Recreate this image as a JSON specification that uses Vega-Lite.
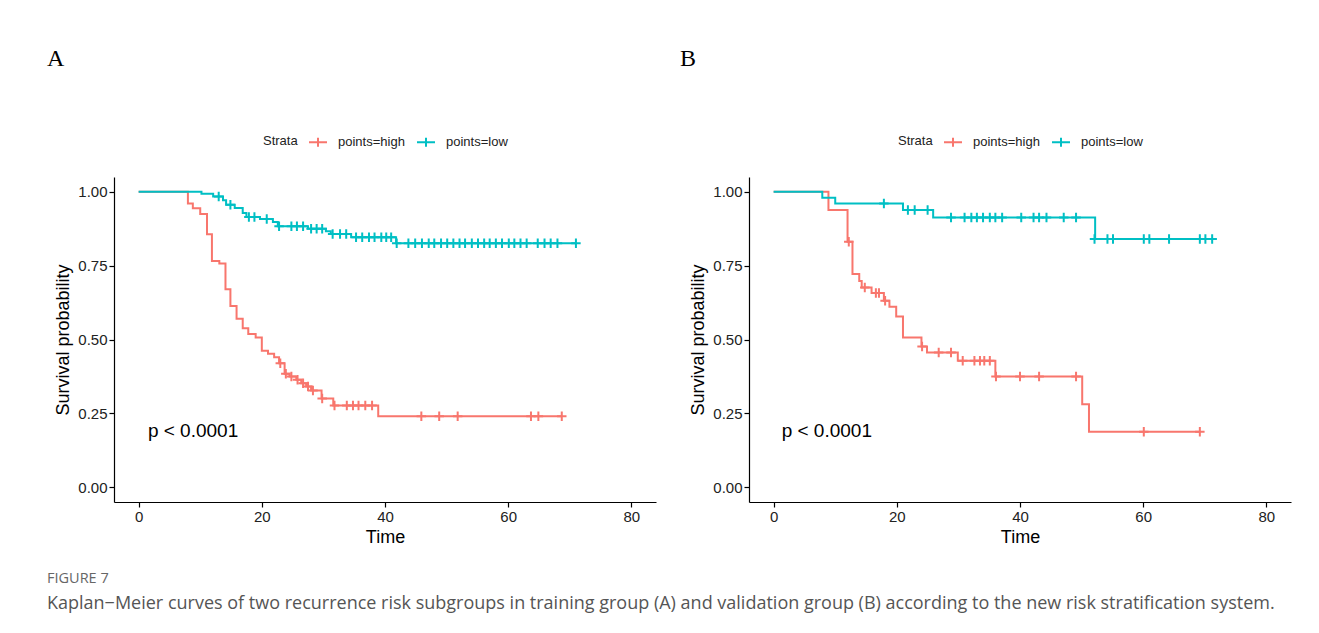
{
  "$schema": "https://vega.github.io/schema/vega-lite/v6.json",
  "background": "white",
  "padding": {"left": 47, "top": 47, "right": 5, "bottom": 5},
  "config": {
    "view": {"stroke": null},
    "font": "Liberation Sans",
    "axis": {
      "grid": false,
      "domainColor": "black",
      "domainWidth": 1.2,
      "tickColor": "black",
      "tickWidth": 1.2,
      "tickSize": 5,
      "labelFont": "Liberation Sans",
      "labelFontSize": 15,
      "labelColor": "#222",
      "labelPadding": 2,
      "titleFont": "Liberation Sans",
      "titleFontSize": 18,
      "titleFontWeight": "normal",
      "titleColor": "black"
    },
    "legend": {
      "labelFont": "Liberation Sans",
      "labelFontSize": 13,
      "labelColor": "#222",
      "titleFont": "Liberation Sans",
      "titleFontSize": 13,
      "titleFontWeight": "normal",
      "titleColor": "#222"
    }
  },
  "title": {
    "text": "FIGURE 7",
    "subtitle": "Kaplan−Meier curves of two recurrence risk subgroups in training group (A) and validation group (B) according to the new risk stratification system.",
    "orient": "bottom",
    "anchor": "start",
    "frame": "group",
    "offset": 26,
    "dx": -67,
    "font": "Open Sans",
    "fontSize": 14.5,
    "fontWeight": "normal",
    "color": "#666",
    "subtitleFont": "Open Sans",
    "subtitleFontSize": 18,
    "subtitleColor": "#555",
    "subtitlePadding": 8
  },
  "datasets": {
    "steps": [
      {"panel": "A", "strata": "points=high", "time": 0, "surv": 1.0},
      {"panel": "A", "strata": "points=high", "time": 8.0, "surv": 0.960},
      {"panel": "A", "strata": "points=high", "time": 8.8, "surv": 0.944},
      {"panel": "A", "strata": "points=high", "time": 10.0, "surv": 0.925},
      {"panel": "A", "strata": "points=high", "time": 11.1, "surv": 0.856},
      {"panel": "A", "strata": "points=high", "time": 11.9, "surv": 0.766},
      {"panel": "A", "strata": "points=high", "time": 13.1, "surv": 0.757},
      {"panel": "A", "strata": "points=high", "time": 14.1, "surv": 0.670},
      {"panel": "A", "strata": "points=high", "time": 14.9, "surv": 0.613},
      {"panel": "A", "strata": "points=high", "time": 15.9, "surv": 0.570},
      {"panel": "A", "strata": "points=high", "time": 16.9, "surv": 0.538},
      {"panel": "A", "strata": "points=high", "time": 17.8, "surv": 0.519},
      {"panel": "A", "strata": "points=high", "time": 19.0, "surv": 0.507},
      {"panel": "A", "strata": "points=high", "time": 20.0, "surv": 0.462},
      {"panel": "A", "strata": "points=high", "time": 21.0, "surv": 0.452},
      {"panel": "A", "strata": "points=high", "time": 22.0, "surv": 0.440},
      {"panel": "A", "strata": "points=high", "time": 22.8, "surv": 0.420},
      {"panel": "A", "strata": "points=high", "time": 23.7, "surv": 0.384},
      {"panel": "A", "strata": "points=high", "time": 24.5, "surv": 0.375},
      {"panel": "A", "strata": "points=high", "time": 25.6, "surv": 0.364},
      {"panel": "A", "strata": "points=high", "time": 26.4, "surv": 0.352},
      {"panel": "A", "strata": "points=high", "time": 27.2, "surv": 0.341},
      {"panel": "A", "strata": "points=high", "time": 28.0, "surv": 0.327},
      {"panel": "A", "strata": "points=high", "time": 29.7, "surv": 0.300},
      {"panel": "A", "strata": "points=high", "time": 31.6, "surv": 0.277},
      {"panel": "A", "strata": "points=high", "time": 38.9, "surv": 0.240},
      {"panel": "A", "strata": "points=high", "time": 68.7, "surv": 0.240},
      {"panel": "A", "strata": "points=low", "time": 0, "surv": 1.0},
      {"panel": "A", "strata": "points=low", "time": 10.2, "surv": 0.993},
      {"panel": "A", "strata": "points=low", "time": 12.1, "surv": 0.984},
      {"panel": "A", "strata": "points=low", "time": 13.7, "surv": 0.971},
      {"panel": "A", "strata": "points=low", "time": 14.2, "surv": 0.956},
      {"panel": "A", "strata": "points=low", "time": 15.6, "surv": 0.945},
      {"panel": "A", "strata": "points=low", "time": 16.9, "surv": 0.928},
      {"panel": "A", "strata": "points=low", "time": 17.5, "surv": 0.915},
      {"panel": "A", "strata": "points=low", "time": 19.7, "surv": 0.908},
      {"panel": "A", "strata": "points=low", "time": 21.8, "surv": 0.898},
      {"panel": "A", "strata": "points=low", "time": 22.6, "surv": 0.883},
      {"panel": "A", "strata": "points=low", "time": 27.5, "surv": 0.875},
      {"panel": "A", "strata": "points=low", "time": 30.4, "surv": 0.866},
      {"panel": "A", "strata": "points=low", "time": 31.2, "surv": 0.857},
      {"panel": "A", "strata": "points=low", "time": 34.5, "surv": 0.846},
      {"panel": "A", "strata": "points=low", "time": 41.8, "surv": 0.826},
      {"panel": "A", "strata": "points=low", "time": 71.0, "surv": 0.826},
      {"panel": "B", "strata": "points=high", "time": 0, "surv": 1.0},
      {"panel": "B", "strata": "points=high", "time": 8.9, "surv": 0.938},
      {"panel": "B", "strata": "points=high", "time": 12.0, "surv": 0.831},
      {"panel": "B", "strata": "points=high", "time": 12.8, "surv": 0.722},
      {"panel": "B", "strata": "points=high", "time": 13.9, "surv": 0.698},
      {"panel": "B", "strata": "points=high", "time": 14.3, "surv": 0.676},
      {"panel": "B", "strata": "points=high", "time": 15.9, "surv": 0.657},
      {"panel": "B", "strata": "points=high", "time": 17.9, "surv": 0.631},
      {"panel": "B", "strata": "points=high", "time": 18.8, "surv": 0.611},
      {"panel": "B", "strata": "points=high", "time": 19.9, "surv": 0.578},
      {"panel": "B", "strata": "points=high", "time": 21.0, "surv": 0.507},
      {"panel": "B", "strata": "points=high", "time": 24.0, "surv": 0.476},
      {"panel": "B", "strata": "points=high", "time": 24.9, "surv": 0.456},
      {"panel": "B", "strata": "points=high", "time": 29.9, "surv": 0.428},
      {"panel": "B", "strata": "points=high", "time": 36.0, "surv": 0.375},
      {"panel": "B", "strata": "points=high", "time": 50.1, "surv": 0.281},
      {"panel": "B", "strata": "points=high", "time": 51.2, "surv": 0.1875},
      {"panel": "B", "strata": "points=high", "time": 69.2, "surv": 0.1875},
      {"panel": "B", "strata": "points=low", "time": 0, "surv": 1.0},
      {"panel": "B", "strata": "points=low", "time": 7.9, "surv": 0.980},
      {"panel": "B", "strata": "points=low", "time": 10.0, "surv": 0.960},
      {"panel": "B", "strata": "points=low", "time": 21.0, "surv": 0.938},
      {"panel": "B", "strata": "points=low", "time": 25.9, "surv": 0.913},
      {"panel": "B", "strata": "points=low", "time": 52.2, "surv": 0.840},
      {"panel": "B", "strata": "points=low", "time": 71.2, "surv": 0.840}
    ],
    "censors": [
      {"panel": "A", "strata": "points=high", "time": 23.0, "surv": 0.420},
      {"panel": "A", "strata": "points=high", "time": 23.9, "surv": 0.384},
      {"panel": "A", "strata": "points=high", "time": 24.8, "surv": 0.375},
      {"panel": "A", "strata": "points=high", "time": 25.8, "surv": 0.364},
      {"panel": "A", "strata": "points=high", "time": 26.7, "surv": 0.352},
      {"panel": "A", "strata": "points=high", "time": 27.5, "surv": 0.341},
      {"panel": "A", "strata": "points=high", "time": 28.3, "surv": 0.327},
      {"panel": "A", "strata": "points=high", "time": 29.8, "surv": 0.300},
      {"panel": "A", "strata": "points=high", "time": 31.8, "surv": 0.277},
      {"panel": "A", "strata": "points=high", "time": 33.8, "surv": 0.277},
      {"panel": "A", "strata": "points=high", "time": 34.8, "surv": 0.277},
      {"panel": "A", "strata": "points=high", "time": 35.7, "surv": 0.277},
      {"panel": "A", "strata": "points=high", "time": 36.8, "surv": 0.277},
      {"panel": "A", "strata": "points=high", "time": 37.9, "surv": 0.277},
      {"panel": "A", "strata": "points=high", "time": 45.9, "surv": 0.240},
      {"panel": "A", "strata": "points=high", "time": 48.8, "surv": 0.240},
      {"panel": "A", "strata": "points=high", "time": 51.8, "surv": 0.240},
      {"panel": "A", "strata": "points=high", "time": 63.7, "surv": 0.240},
      {"panel": "A", "strata": "points=high", "time": 64.9, "surv": 0.240},
      {"panel": "A", "strata": "points=high", "time": 68.7, "surv": 0.240},
      {"panel": "A", "strata": "points=low", "time": 13.0, "surv": 0.984},
      {"panel": "A", "strata": "points=low", "time": 14.9, "surv": 0.956},
      {"panel": "A", "strata": "points=low", "time": 17.9, "surv": 0.915},
      {"panel": "A", "strata": "points=low", "time": 18.8, "surv": 0.915},
      {"panel": "A", "strata": "points=low", "time": 20.8, "surv": 0.908},
      {"panel": "A", "strata": "points=low", "time": 22.8, "surv": 0.883},
      {"panel": "A", "strata": "points=low", "time": 24.8, "surv": 0.883},
      {"panel": "A", "strata": "points=low", "time": 25.7, "surv": 0.883},
      {"panel": "A", "strata": "points=low", "time": 26.7, "surv": 0.883},
      {"panel": "A", "strata": "points=low", "time": 28.0, "surv": 0.875},
      {"panel": "A", "strata": "points=low", "time": 28.9, "surv": 0.875},
      {"panel": "A", "strata": "points=low", "time": 29.8, "surv": 0.875},
      {"panel": "A", "strata": "points=low", "time": 31.5, "surv": 0.857},
      {"panel": "A", "strata": "points=low", "time": 32.7, "surv": 0.857},
      {"panel": "A", "strata": "points=low", "time": 33.7, "surv": 0.857},
      {"panel": "A", "strata": "points=low", "time": 35.3, "surv": 0.846},
      {"panel": "A", "strata": "points=low", "time": 36.3, "surv": 0.846},
      {"panel": "A", "strata": "points=low", "time": 37.4, "surv": 0.846},
      {"panel": "A", "strata": "points=low", "time": 38.3, "surv": 0.846},
      {"panel": "A", "strata": "points=low", "time": 39.4, "surv": 0.846},
      {"panel": "A", "strata": "points=low", "time": 40.2, "surv": 0.846},
      {"panel": "A", "strata": "points=low", "time": 41.0, "surv": 0.846},
      {"panel": "A", "strata": "points=low", "time": 41.9, "surv": 0.826},
      {"panel": "A", "strata": "points=low", "time": 43.8, "surv": 0.826},
      {"panel": "A", "strata": "points=low", "time": 44.9, "surv": 0.826},
      {"panel": "A", "strata": "points=low", "time": 46.0, "surv": 0.826},
      {"panel": "A", "strata": "points=low", "time": 47.1, "surv": 0.826},
      {"panel": "A", "strata": "points=low", "time": 48.0, "surv": 0.826},
      {"panel": "A", "strata": "points=low", "time": 49.1, "surv": 0.826},
      {"panel": "A", "strata": "points=low", "time": 50.1, "surv": 0.826},
      {"panel": "A", "strata": "points=low", "time": 51.1, "surv": 0.826},
      {"panel": "A", "strata": "points=low", "time": 52.1, "surv": 0.826},
      {"panel": "A", "strata": "points=low", "time": 53.0, "surv": 0.826},
      {"panel": "A", "strata": "points=low", "time": 54.1, "surv": 0.826},
      {"panel": "A", "strata": "points=low", "time": 55.1, "surv": 0.826},
      {"panel": "A", "strata": "points=low", "time": 56.1, "surv": 0.826},
      {"panel": "A", "strata": "points=low", "time": 57.0, "surv": 0.826},
      {"panel": "A", "strata": "points=low", "time": 58.0, "surv": 0.826},
      {"panel": "A", "strata": "points=low", "time": 59.0, "surv": 0.826},
      {"panel": "A", "strata": "points=low", "time": 60.1, "surv": 0.826},
      {"panel": "A", "strata": "points=low", "time": 61.0, "surv": 0.826},
      {"panel": "A", "strata": "points=low", "time": 62.0, "surv": 0.826},
      {"panel": "A", "strata": "points=low", "time": 63.0, "surv": 0.826},
      {"panel": "A", "strata": "points=low", "time": 64.8, "surv": 0.826},
      {"panel": "A", "strata": "points=low", "time": 65.9, "surv": 0.826},
      {"panel": "A", "strata": "points=low", "time": 66.9, "surv": 0.826},
      {"panel": "A", "strata": "points=low", "time": 68.0, "surv": 0.826},
      {"panel": "A", "strata": "points=low", "time": 71.0, "surv": 0.826},
      {"panel": "B", "strata": "points=high", "time": 12.2, "surv": 0.831},
      {"panel": "B", "strata": "points=high", "time": 14.8, "surv": 0.676},
      {"panel": "B", "strata": "points=high", "time": 16.6, "surv": 0.657},
      {"panel": "B", "strata": "points=high", "time": 17.1, "surv": 0.657},
      {"panel": "B", "strata": "points=high", "time": 18.1, "surv": 0.631},
      {"panel": "B", "strata": "points=high", "time": 24.1, "surv": 0.476},
      {"panel": "B", "strata": "points=high", "time": 26.8, "surv": 0.456},
      {"panel": "B", "strata": "points=high", "time": 28.8, "surv": 0.456},
      {"panel": "B", "strata": "points=high", "time": 30.7, "surv": 0.428},
      {"panel": "B", "strata": "points=high", "time": 32.6, "surv": 0.428},
      {"panel": "B", "strata": "points=high", "time": 33.5, "surv": 0.428},
      {"panel": "B", "strata": "points=high", "time": 34.2, "surv": 0.428},
      {"panel": "B", "strata": "points=high", "time": 35.1, "surv": 0.428},
      {"panel": "B", "strata": "points=high", "time": 36.1, "surv": 0.375},
      {"panel": "B", "strata": "points=high", "time": 40.0, "surv": 0.375},
      {"panel": "B", "strata": "points=high", "time": 43.1, "surv": 0.375},
      {"panel": "B", "strata": "points=high", "time": 49.1, "surv": 0.375},
      {"panel": "B", "strata": "points=high", "time": 60.1, "surv": 0.1875},
      {"panel": "B", "strata": "points=high", "time": 69.2, "surv": 0.1875},
      {"panel": "B", "strata": "points=low", "time": 17.9, "surv": 0.960},
      {"panel": "B", "strata": "points=low", "time": 21.8, "surv": 0.938},
      {"panel": "B", "strata": "points=low", "time": 22.9, "surv": 0.938},
      {"panel": "B", "strata": "points=low", "time": 25.0, "surv": 0.938},
      {"panel": "B", "strata": "points=low", "time": 28.8, "surv": 0.913},
      {"panel": "B", "strata": "points=low", "time": 31.0, "surv": 0.913},
      {"panel": "B", "strata": "points=low", "time": 32.1, "surv": 0.913},
      {"panel": "B", "strata": "points=low", "time": 33.0, "surv": 0.913},
      {"panel": "B", "strata": "points=low", "time": 34.0, "surv": 0.913},
      {"panel": "B", "strata": "points=low", "time": 35.1, "surv": 0.913},
      {"panel": "B", "strata": "points=low", "time": 36.0, "surv": 0.913},
      {"panel": "B", "strata": "points=low", "time": 37.1, "surv": 0.913},
      {"panel": "B", "strata": "points=low", "time": 40.2, "surv": 0.913},
      {"panel": "B", "strata": "points=low", "time": 42.2, "surv": 0.913},
      {"panel": "B", "strata": "points=low", "time": 43.1, "surv": 0.913},
      {"panel": "B", "strata": "points=low", "time": 44.3, "surv": 0.913},
      {"panel": "B", "strata": "points=low", "time": 47.1, "surv": 0.913},
      {"panel": "B", "strata": "points=low", "time": 49.1, "surv": 0.913},
      {"panel": "B", "strata": "points=low", "time": 52.1, "surv": 0.840},
      {"panel": "B", "strata": "points=low", "time": 54.2, "surv": 0.840},
      {"panel": "B", "strata": "points=low", "time": 55.1, "surv": 0.840},
      {"panel": "B", "strata": "points=low", "time": 60.1, "surv": 0.840},
      {"panel": "B", "strata": "points=low", "time": 61.0, "surv": 0.840},
      {"panel": "B", "strata": "points=low", "time": 64.2, "surv": 0.840},
      {"panel": "B", "strata": "points=low", "time": 69.2, "surv": 0.840},
      {"panel": "B", "strata": "points=low", "time": 70.1, "surv": 0.840},
      {"panel": "B", "strata": "points=low", "time": 71.2, "surv": 0.840}
    ],
    "pvals": [
      {"panel": "A", "time": 1.5, "surv": 0.19, "label": "p < 0.0001"},
      {"panel": "B", "time": 1.3, "surv": 0.19, "label": "p < 0.0001"}
    ]
  },
  "spacing": 24,
  "resolve": {"scale": {"color": "independent", "x": "independent", "y": "independent"}, "legend": {"color": "independent"}},
  "hconcat": [
    {
      "width": 542,
      "height": 325,
      "title": {"text": "A", "anchor": "start", "frame": "group", "dx": -67, "offset": 61, "font": "Liberation Serif", "fontSize": 24, "fontWeight": "normal", "color": "black"},
      "layer": [
        {
          "data": {"name": "steps"},
          "transform": [{"filter": "datum.panel == 'A'"}],
          "mark": {"type": "line", "interpolate": "step-after", "strokeWidth": 2},
          "encoding": {
            "x": {"field": "time", "type": "quantitative", "scale": {"domain": [-4, 84], "nice": false, "zero": false}, "axis": {"values": [0, 20, 40, 60, 80], "title": "Time", "titlePadding": 6, "minExtent": 20, "maxExtent": 20}},
            "y": {"field": "surv", "type": "quantitative", "scale": {"domain": [-0.05, 1.05], "nice": false, "zero": false}, "axis": {"values": [0, 0.25, 0.5, 0.75, 1], "format": ".2f", "title": "Survival probability", "titlePadding": 6, "minExtent": 36, "maxExtent": 36}},
            "color": {"field": "strata", "type": "nominal", "scale": {"domain": ["points=high", "points=low"], "range": ["#F8766D", "#00BFC4"]},
              "legend": {"title": "Strata", "orient": "none", "legendX": 149, "legendY": -45, "direction": "horizontal", "titleOrient": "left", "titlePadding": 10, "labelOffset": 10, "columnPadding": 8, "symbolType": "M-1,0H1M0,-0.5V0.5", "symbolSize": 324, "symbolStrokeWidth": 2, "symbolFillColor": "transparent"}}
          }
        },
        {
          "data": {"name": "censors"},
          "transform": [{"filter": "datum.panel == 'A'"}],
          "mark": {"type": "point", "shape": "M-1,0H1M0,-1V1", "filled": false, "size": 90, "strokeWidth": 2, "opacity": 1},
          "encoding": {
            "x": {"field": "time", "type": "quantitative"},
            "y": {"field": "surv", "type": "quantitative"},
            "color": {"field": "strata", "type": "nominal"}
          }
        },
        {
          "data": {"name": "pvals"},
          "transform": [{"filter": "datum.panel == 'A'"}],
          "mark": {"type": "text", "align": "left", "baseline": "middle", "fontSize": 19, "font": "Liberation Sans", "color": "black"},
          "encoding": {
            "x": {"field": "time", "type": "quantitative"},
            "y": {"field": "surv", "type": "quantitative"},
            "text": {"field": "label"}
          }
        }
      ]
    },
    {
      "width": 542,
      "height": 325,
      "title": {"text": "B", "anchor": "start", "frame": "group", "dx": -69, "offset": 61, "font": "Liberation Serif", "fontSize": 24, "fontWeight": "normal", "color": "black"},
      "layer": [
        {
          "data": {"name": "steps"},
          "transform": [{"filter": "datum.panel == 'B'"}],
          "mark": {"type": "line", "interpolate": "step-after", "strokeWidth": 2},
          "encoding": {
            "x": {"field": "time", "type": "quantitative", "scale": {"domain": [-4, 84], "nice": false, "zero": false}, "axis": {"values": [0, 20, 40, 60, 80], "title": "Time", "titlePadding": 6, "minExtent": 20, "maxExtent": 20}},
            "y": {"field": "surv", "type": "quantitative", "scale": {"domain": [-0.05, 1.05], "nice": false, "zero": false}, "axis": {"values": [0, 0.25, 0.5, 0.75, 1], "format": ".2f", "title": "Survival probability", "titlePadding": 6, "minExtent": 36, "maxExtent": 36}},
            "color": {"field": "strata", "type": "nominal", "scale": {"domain": ["points=high", "points=low"], "range": ["#F8766D", "#00BFC4"]},
              "legend": {"title": "Strata", "orient": "none", "legendX": 149, "legendY": -45, "direction": "horizontal", "titleOrient": "left", "titlePadding": 10, "labelOffset": 10, "columnPadding": 8, "symbolType": "M-1,0H1M0,-0.5V0.5", "symbolSize": 324, "symbolStrokeWidth": 2, "symbolFillColor": "transparent"}}
          }
        },
        {
          "data": {"name": "censors"},
          "transform": [{"filter": "datum.panel == 'B'"}],
          "mark": {"type": "point", "shape": "M-1,0H1M0,-1V1", "filled": false, "size": 90, "strokeWidth": 2, "opacity": 1},
          "encoding": {
            "x": {"field": "time", "type": "quantitative"},
            "y": {"field": "surv", "type": "quantitative"},
            "color": {"field": "strata", "type": "nominal"}
          }
        },
        {
          "data": {"name": "pvals"},
          "transform": [{"filter": "datum.panel == 'B'"}],
          "mark": {"type": "text", "align": "left", "baseline": "middle", "fontSize": 19, "font": "Liberation Sans", "color": "black"},
          "encoding": {
            "x": {"field": "time", "type": "quantitative"},
            "y": {"field": "surv", "type": "quantitative"},
            "text": {"field": "label"}
          }
        }
      ]
    }
  ]
}
